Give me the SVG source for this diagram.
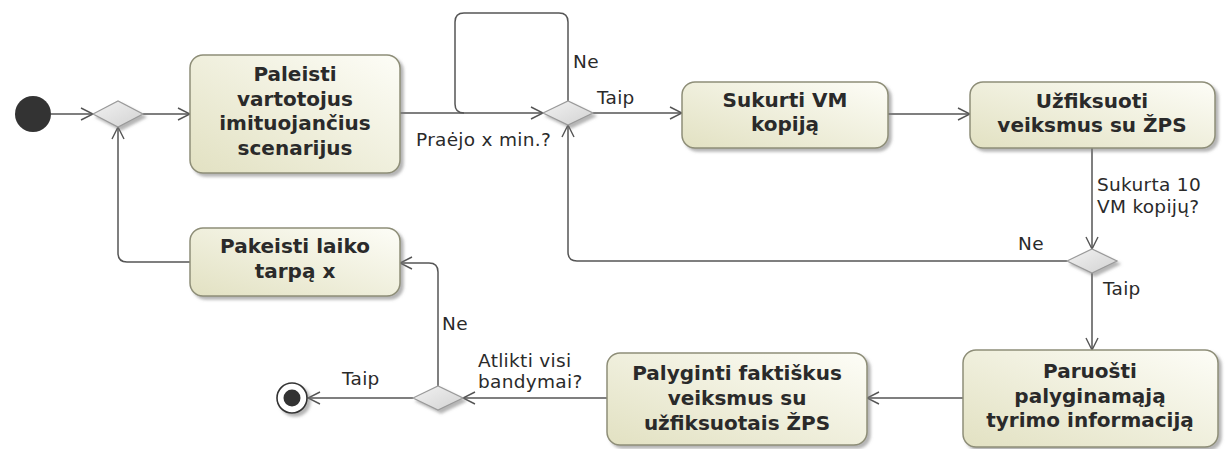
<svg xmlns="http://www.w3.org/2000/svg" width="1225" height="449" viewBox="0 0 1225 449">
<defs>
<linearGradient id="ng" x1="0" y1="1" x2="1" y2="0">
<stop offset="0" stop-color="#e2e1c2"/>
<stop offset="1" stop-color="#fdfdf7"/>
</linearGradient>
<linearGradient id="dg" x1="0" y1="0" x2="1" y2="1">
<stop offset="0" stop-color="#f2f2f2"/>
<stop offset="1" stop-color="#d2d2d2"/>
</linearGradient>
<filter id="sh" x="-10%" y="-10%" width="130%" height="140%">
<feDropShadow dx="3" dy="3" stdDeviation="1.5" flood-color="#777" flood-opacity="0.55"/>
</filter>
<marker id="ar" viewBox="0 0 14 14" refX="13" refY="7" markerWidth="14" markerHeight="14" markerUnits="userSpaceOnUse" orient="auto">
<path d="M1,1 L13,7 L1,13" fill="none" stroke="#555" stroke-width="1.4"/>
</marker>
</defs>
<style>
.node{fill:url(#ng);stroke:#8e8e78;stroke-width:1.5;filter:url(#sh)}
.dia{fill:url(#dg);stroke:#9a9a9a;stroke-width:1.2;filter:url(#sh)}
.nt{font-family:"DejaVu Sans",Verdana,sans-serif;font-weight:bold;font-size:20px;fill:#2a2a2a;text-anchor:middle}
.lb{font-family:"DejaVu Sans",Verdana,sans-serif;font-size:18.5px;fill:#2a2a2a;letter-spacing:0.3px}
.cn{fill:none;stroke:#555;stroke-width:1.5}
.ca{fill:none;stroke:#555;stroke-width:1.5;marker-end:url(#ar)}
</style>
<rect width="1225" height="449" fill="#ffffff"/>

<g id="connectors">
<path class="ca" d="M51,114 H93"/>
<path class="ca" d="M143,114 H190"/>
<path class="ca" d="M400,113 H543"/>
<path class="cn" d="M568,101 V22 Q568,13 559,13 H464 Q455,13 455,22 V104 Q455,113 464,113"/>
<path class="ca" d="M593,113 H682"/>
<path class="ca" d="M1067,261 H577 Q568,261 568,252 V125"/>
<path class="ca" d="M888,114 H970"/>
<path class="ca" d="M1092,148 V249"/>
<path class="ca" d="M1092,273 V350"/>
<path class="ca" d="M963,398 H867"/>
<path class="ca" d="M607,398 H463"/>
<path class="ca" d="M438,386 V272 Q438,263 429,263 H400"/>
<path class="ca" d="M413,398 H308"/>
<path class="ca" d="M190,262 H127 Q118,262 118,253 V127"/>
</g>

<g id="labels">
<text class="lb" x="416" y="146">Praėjo x min.?</text>
<text class="lb" x="573" y="68">Ne</text>
<text class="lb" x="597" y="104">Taip</text>
<text class="lb" x="1097" y="191">Sukurta 10</text>
<text class="lb" x="1097" y="213">VM kopijų?</text>
<text class="lb" x="1018" y="250">Ne</text>
<text class="lb" x="1103" y="295">Taip</text>
<text class="lb" x="442" y="330">Ne</text>
<text class="lb" x="478" y="367">Atlikti visi</text>
<text class="lb" x="478" y="388">bandymai?</text>
<text class="lb" x="342" y="385">Taip</text>
</g>

<g id="start">
<circle cx="33" cy="114" r="18" fill="#333"/>
</g>

<g id="d1"><polygon class="dia" points="93,114 118,101 143,114 118,127"/></g>
<g id="d2"><polygon class="dia" points="543,113 568,101 593,113 568,125"/></g>
<g id="d3"><polygon class="dia" points="1067,261 1092,249 1117,261 1092,273"/></g>
<g id="d4"><polygon class="dia" points="413,398 438,386 463,398 438,410"/></g>

<g id="n1">
<rect class="node" x="190" y="55" width="210" height="118" rx="13"/>
<text class="nt" x="295" y="81">Paleisti</text>
<text class="nt" x="295" y="105.5">vartotojus</text>
<text class="nt" x="295" y="130">imituojančius</text>
<text class="nt" x="295" y="154.5">scenarijus</text>
</g>

<g id="n2">
<rect class="node" x="682" y="82" width="206" height="66" rx="13"/>
<text class="nt" x="785" y="107">Sukurti VM</text>
<text class="nt" x="785" y="131">kopiją</text>
</g>

<g id="n3">
<rect class="node" x="970" y="82" width="245" height="66" rx="13"/>
<text class="nt" x="1092" y="108">Užfiksuoti</text>
<text class="nt" x="1092" y="132">veiksmus su ŽPS</text>
</g>

<g id="n4">
<rect class="node" x="963" y="350" width="255" height="97" rx="13"/>
<text class="nt" x="1090" y="378">Paruošti</text>
<text class="nt" x="1090" y="403">palyginamąją</text>
<text class="nt" x="1090" y="427">tyrimo informaciją</text>
</g>

<g id="n5">
<rect class="node" x="607" y="353" width="260" height="92" rx="13"/>
<text class="nt" x="737" y="380">Palyginti faktiškus</text>
<text class="nt" x="737" y="405">veiksmus su</text>
<text class="nt" x="737" y="430">užfiksuotais ŽPS</text>
</g>

<g id="n6">
<rect class="node" x="190" y="228" width="210" height="68" rx="13"/>
<text class="nt" x="295" y="253">Pakeisti laiko</text>
<text class="nt" x="295" y="278">tarpą x</text>
</g>

<g id="end">
<circle cx="292" cy="398" r="15" fill="#fff" stroke="#333" stroke-width="1.6" filter="url(#sh)"/>
<circle cx="292" cy="398" r="8.5" fill="#333"/>
</g>
</svg>
